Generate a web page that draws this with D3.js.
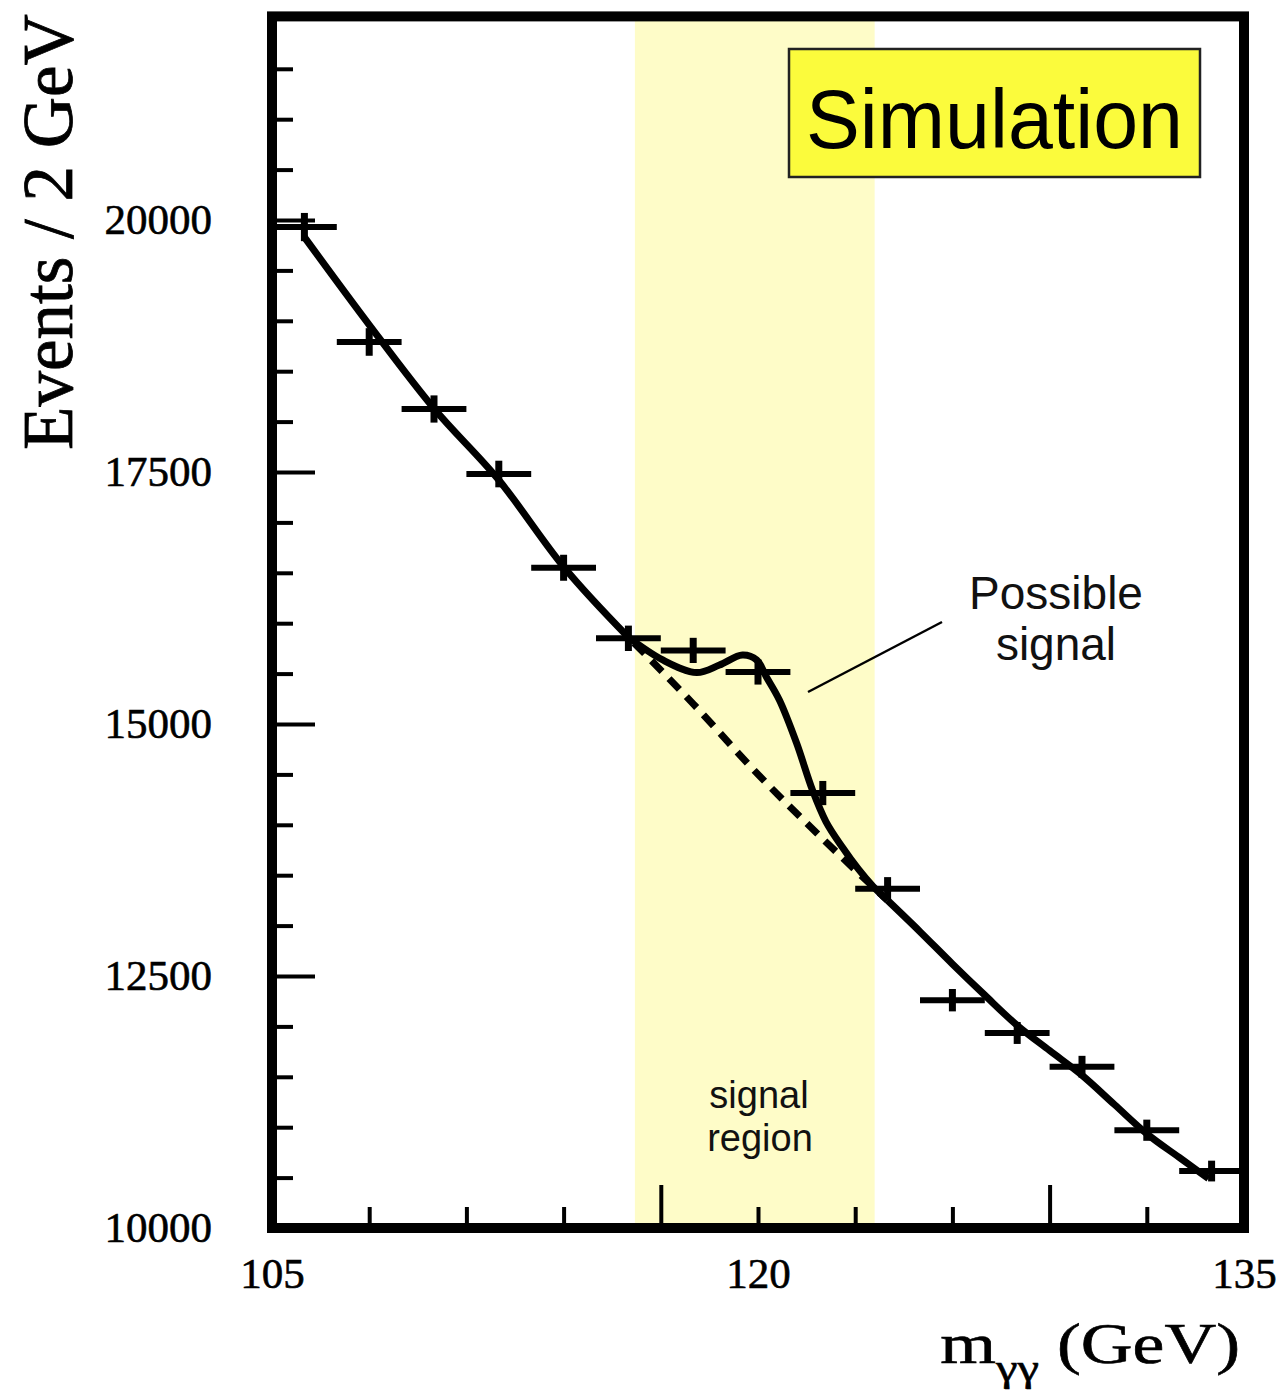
<!DOCTYPE html>
<html>
<head>
<meta charset="utf-8">
<script src="https://cdn.jsdelivr.net/npm/d3@7"></script>
<style>
  html, body { margin: 0; padding: 0; background: #fff; }
  svg { display: block; }
</style>
</head>
<body>
<svg id="chart" width="1279" height="1395"></svg>
<script>
// ---------- data ----------
const binCenters = [106, 108, 110, 112, 114, 116, 118, 120, 122, 124, 126, 128, 130, 132, 134];
const binHalfWidth = 1;
const counts = [19930, 18790, 18125, 17480, 16550, 15850, 15730, 15515, 14315, 13365, 12260, 11935, 11600, 10970, 10565];
const errors = [140, 137, 135, 132, 129, 126, 125, 124, 120, 116, 111, 109, 108, 105, 103];

// background fit (solid outside signal region, dashed inside)
const bkgX = [106, 108, 110, 112, 114, 116, 118, 120, 122, 124, 125, 126, 127, 128, 129, 130, 131, 132, 133, 133.9];
const bkgY = [19830, 18960, 18130, 17420, 16560, 15860, 15200, 14500, 13860, 13250, 12940, 12620, 12310, 12010, 11760, 11515, 11225, 10935, 10700, 10490];

// signal + background curve inside the signal region
const sigX = [116, 117.06, 118.11, 118.81, 119.52, 119.96, 120.26, 120.66, 121.19, 121.68, 122.1, 122.6, 123.1, 123.55, 124];
const sigY = [15860, 15635, 15510, 15585, 15684, 15635, 15466, 15238, 14811, 14345, 14030, 13780, 13560, 13390, 13250];

const signalRegion = [116.2, 123.6];

const xTicksMinor = [108, 111, 114, 120, 123, 126, 132];
const xTicksMajor = [117, 129];
const xTickLabels = [105, 120, 135];
const yTicksMinor = [10500, 11000, 11500, 12000, 13000, 13500, 14000, 14500, 15500, 16000, 16500, 17000, 18000, 18500, 19000, 19500, 20500, 21000, 21500];
const yTicksMajor = [12500, 15000, 17500, 20000];
const yTickLabels = [10000, 12500, 15000, 17500, 20000];

// ---------- layout ----------
const svg = d3.select("#chart");
const x = d3.scaleLinear().domain([105, 135]).range([272, 1244]);
const y = d3.scaleLinear().domain([10000, 22000]).range([1228, 18.4]);

const serif = "'Liberation Serif', 'Times New Roman', serif";
const sans = "'Liberation Sans', Arial, Helvetica, sans-serif";

// signal region band
svg.append("rect")
  .attr("x", x(signalRegion[0]))
  .attr("y", y(22000))
  .attr("width", x(signalRegion[1]) - x(signalRegion[0]))
  .attr("height", y(10000) - y(22000))
  .attr("fill", "#fefcc8");

// signal region label
svg.append("text")
  .attr("font-family", sans).attr("font-size", 38).attr("fill", "#111")
  .attr("text-anchor", "middle").attr("x", 759).attr("y", 1108).text("signal");
svg.append("text")
  .attr("font-family", sans).attr("font-size", 38).attr("fill", "#111")
  .attr("text-anchor", "middle").attr("x", 760).attr("y", 1151).text("region");

// ticks (inside)
function styleTicks(g) {
  g.select(".domain").remove();
  g.selectAll(".tick line").attr("stroke", "#000").attr("stroke-width", 4);
}
svg.append("g").attr("transform", `translate(${x(105)},0)`)
  .call(d3.axisRight(y).tickValues(yTicksMinor).tickSize(21).tickFormat(""))
  .call(styleTicks);
svg.append("g").attr("transform", `translate(${x(105)},0)`)
  .call(d3.axisRight(y).tickValues(yTicksMajor).tickSize(43).tickFormat(""))
  .call(styleTicks);
svg.append("g").attr("transform", `translate(0,${y(10000)})`)
  .call(d3.axisTop(x).tickValues(xTicksMinor).tickSize(21).tickFormat(""))
  .call(styleTicks);
svg.append("g").attr("transform", `translate(0,${y(10000)})`)
  .call(d3.axisTop(x).tickValues(xTicksMajor).tickSize(43).tickFormat(""))
  .call(styleTicks);

// tick labels
const yl = svg.append("g").attr("transform", `translate(${x(105)},0)`)
  .call(d3.axisLeft(y).tickValues(yTickLabels).tickSize(0).tickPadding(60).tickFormat(d3.format("d")));
yl.select(".domain").remove();
yl.selectAll("text").attr("font-family", serif).attr("font-size", 43).attr("fill", "#000")
  .attr("stroke", "#000").attr("stroke-width", 0.6);

const xl = svg.append("g").attr("transform", `translate(0,${y(10000)})`)
  .call(d3.axisBottom(x).tickValues(xTickLabels).tickSize(0).tickPadding(29).tickFormat(d3.format("d")));
xl.select(".domain").remove();
xl.selectAll("text").attr("font-family", serif).attr("font-size", 43).attr("fill", "#000")
  .attr("stroke", "#000").attr("stroke-width", 0.6);

// curves
const smooth = d3.line().x(d => x(d[0])).y(d => y(d[1])).curve(d3.curveMonotoneX);
const wavy = d3.line().x(d => x(d[0])).y(d => y(d[1])).curve(d3.curveCatmullRom.alpha(0.5));
const bkg = bkgX.map((v, i) => [v, bkgY[i]]);
const bkgLeft = bkg.filter(d => d[0] <= 116);
const bkgMid = bkg.filter(d => d[0] >= 116 && d[0] <= 124);
const bkgRight = bkg.filter(d => d[0] >= 124);
const sig = sigX.map((v, i) => [v, sigY[i]]);

const curveStyle = p => p.attr("fill", "none").attr("stroke", "#000").attr("stroke-width", 7)
  .attr("stroke-linejoin", "round");

svg.append("path").datum(bkgMid).attr("d", smooth).call(curveStyle)
  .attr("stroke-dasharray", "15,10").attr("stroke-dashoffset", -8);
svg.append("path").datum(bkgLeft).attr("d", smooth).call(curveStyle);
svg.append("path").datum(bkgRight).attr("d", smooth).call(curveStyle);
svg.append("path").datum(sig).attr("d", wavy).call(curveStyle);

// data points
const pts = svg.append("g");
binCenters.forEach((c, i) => {
  pts.append("line")
    .attr("x1", x(c - binHalfWidth)).attr("x2", x(c + binHalfWidth))
    .attr("y1", y(counts[i])).attr("y2", y(counts[i]))
    .attr("stroke", "#000").attr("stroke-width", 6);
  pts.append("line")
    .attr("x1", x(c)).attr("x2", x(c))
    .attr("y1", y(counts[i] - errors[i])).attr("y2", y(counts[i] + errors[i]))
    .attr("stroke", "#000").attr("stroke-width", 7);
});

// frame
svg.append("rect")
  .attr("x", x(105)).attr("y", y(22000) - 2)
  .attr("width", x(135) - x(105)).attr("height", y(10000) - y(22000) + 2)
  .attr("fill", "none").attr("stroke", "#000").attr("stroke-width", 10);

// pointer line + possible signal label
svg.append("line").attr("x1", 942).attr("y1", 622).attr("x2", 808).attr("y2", 692)
  .attr("stroke", "#000").attr("stroke-width", 2.5);
svg.append("text").attr("font-family", sans).attr("font-size", 46).attr("fill", "#111")
  .attr("text-anchor", "middle").attr("x", 1056).attr("y", 609).text("Possible");
svg.append("text").attr("font-family", sans).attr("font-size", 46).attr("fill", "#111")
  .attr("text-anchor", "middle").attr("x", 1056).attr("y", 660).text("signal");

// Simulation box
svg.append("rect").attr("x", 789).attr("y", 49).attr("width", 411).attr("height", 128)
  .attr("fill", "#fbfb3c").attr("stroke", "#222").attr("stroke-width", 2.5);
svg.append("text").attr("x", 806).attr("y", 148)
  .attr("font-family", sans).attr("font-size", 84).attr("fill", "#000")
  .attr("textLength", 377).attr("lengthAdjust", "spacingAndGlyphs")
  .text("Simulation");

// axis titles
svg.append("text")
  .attr("transform", "translate(72,232) rotate(-90)")
  .attr("text-anchor", "middle")
  .attr("font-family", serif).attr("font-size", 71).attr("fill", "#000")
  .attr("stroke", "#000").attr("stroke-width", 0.8)
  .text("Events / 2 GeV");

const xt = svg.append("text")
  .attr("transform", "translate(1240,1363) scale(1.28,1)")
  .attr("text-anchor", "end")
  .attr("font-family", serif).attr("font-size", 56).attr("fill", "#000")
  .attr("stroke", "#000").attr("stroke-width", 0.6);
xt.append("tspan").text("m");
xt.append("tspan").attr("font-size", 38).attr("dy", 18).text("γγ");
xt.append("tspan").attr("dy", -18).text(" (GeV)");
</script>
</body>
</html>
